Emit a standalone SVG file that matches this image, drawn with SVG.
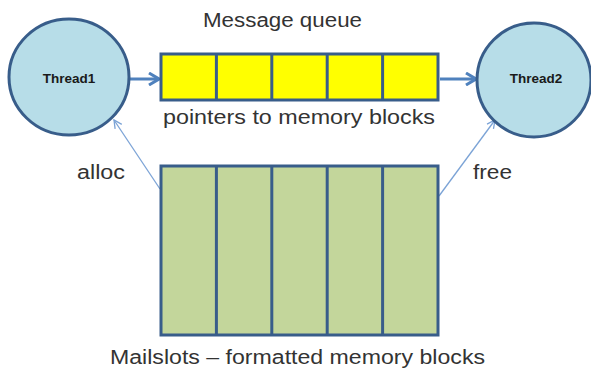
<svg xmlns="http://www.w3.org/2000/svg" width="591" height="379" viewBox="0 0 591 379">
<style>
.thread{fill:#b7dde8;stroke:#385d8a;stroke-width:3}
.tlabel{font-family:"Liberation Sans",Arial,sans-serif;font-weight:bold;font-size:13.5px;fill:#1a1a1a;text-anchor:middle}
.lbl{font-family:"Liberation Sans",Arial,sans-serif;font-size:20px;fill:#333}
.queue{fill:#ffff00;stroke:#385d8a;stroke-width:3}
.slots{fill:#c3d69b;stroke:#385d8a;stroke-width:3}
.div{stroke:#385d8a;stroke-width:3}
.thick{stroke:#4f81bd;stroke-width:3;fill:none}
.thin{stroke:#7ba3d6;stroke-width:1.3;fill:none}
</style>
<defs>
<marker id="openThick" viewBox="0 0 12 14" refX="11" refY="7" markerWidth="12" markerHeight="14" markerUnits="userSpaceOnUse" orient="auto">
<path d="M1,1 L11,7 L1,13" fill="none" stroke="#4f81bd" stroke-width="3"/>
</marker>
<marker id="openThin" viewBox="0 0 10 10" refX="9" refY="5" markerWidth="10" markerHeight="10" markerUnits="userSpaceOnUse" orient="auto">
<path d="M1,1 L9,5 L1,9" fill="none" stroke="#7ba3d6" stroke-width="1.3"/>
</marker>
</defs>
<rect width="591" height="379" fill="#ffffff"/>
<g id="connectors">
<line class="thick" x1="130" y1="79" x2="159" y2="79" marker-end="url(#openThick)"/>
<line class="thick" x1="440" y1="79" x2="476" y2="79" marker-end="url(#openThick)"/>
<line class="thin" x1="160" y1="189" x2="114" y2="120" marker-end="url(#openThin)"/>
<line class="thin" x1="439" y1="196" x2="495" y2="120" marker-end="url(#openThin)"/>
</g>
<g id="thread1">
<ellipse class="thread" cx="69" cy="77" rx="60" ry="58"/>
<text class="tlabel" x="69" y="83">Thread1</text>
</g>
<g id="thread2">
<ellipse class="thread" cx="534" cy="80" rx="57" ry="57"/>
<text class="tlabel" x="536" y="83">Thread2</text>
</g>
<g id="message-queue">
<rect class="queue" x="161" y="54" width="277" height="46"/>
<line class="div" x1="216.4" y1="54" x2="216.4" y2="100"/>
<line class="div" x1="271.8" y1="54" x2="271.8" y2="100"/>
<line class="div" x1="327.2" y1="54" x2="327.2" y2="100"/>
<line class="div" x1="382.6" y1="54" x2="382.6" y2="100"/>
<text class="lbl" x="203" y="27" textLength="159" lengthAdjust="spacingAndGlyphs">Message queue</text>
<text class="lbl" x="163" y="124" textLength="272" lengthAdjust="spacingAndGlyphs">pointers to memory blocks</text>
</g>
<g id="mailslots">
<rect class="slots" x="161" y="166" width="277" height="169"/>
<line class="div" x1="216.4" y1="166" x2="216.4" y2="335"/>
<line class="div" x1="271.8" y1="166" x2="271.8" y2="335"/>
<line class="div" x1="327.2" y1="166" x2="327.2" y2="335"/>
<line class="div" x1="382.6" y1="166" x2="382.6" y2="335"/>
<text class="lbl" x="110" y="364" textLength="375" lengthAdjust="spacingAndGlyphs">Mailslots – formatted memory blocks</text>
</g>
<text class="lbl" x="77" y="179" textLength="48" lengthAdjust="spacingAndGlyphs">alloc</text>
<text class="lbl" x="473" y="179" textLength="39" lengthAdjust="spacingAndGlyphs">free</text>
</svg>
